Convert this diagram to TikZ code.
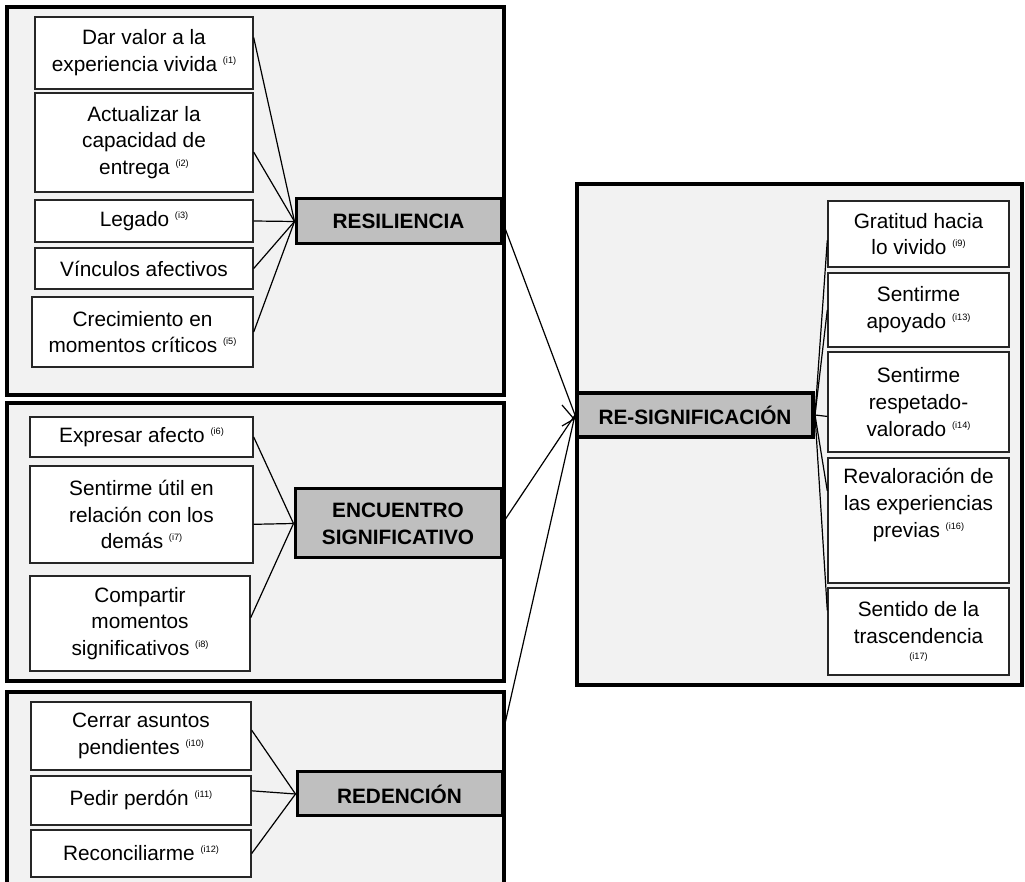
\documentclass[tikz,border=0pt]{standalone}
\usepackage{fontspec}
\setmainfont{Liberation Sans}
\usepackage{tikz}
\usetikzlibrary{arrows.meta}
\definecolor{framefill}{HTML}{F2F2F2}
\definecolor{headfill}{HTML}{BFBFBF}
\newcommand{\idx}[1]{~\raisebox{4pt}{\fontsize{4.6}{5}\selectfont(#1)}}

\begin{document}
\begin{tikzpicture}[x=0.5pt, y=-0.5pt,
    sz/.style 2 args={minimum width=#1*0.5pt, minimum height=#2*0.5pt},
    frame/.style={draw=black, fill=framefill, line width=2pt, inner sep=0pt},
    item/.style={draw=black!85, fill=white, line width=0.7pt, inner sep=0pt,
        align=center, font=\fontsize{10.4}{13.4}\selectfont},
    head/.style={draw=black, fill=headfill, line width=1.5pt, inner sep=0pt,
        align=center, font=\fontsize{10.4}{13.5}\selectfont\bfseries},
    link/.style={line width=0.6pt}]

\clip (0,0) rectangle (1025,882);
\fill[white] (0,0) rectangle (1025,882);

% Frames
\node[frame, sz={497}{388}] (grp1) at (255.5,201) {};
\node[frame, sz={497}{278}] (grp2) at (255.5,542) {};
\node[frame, sz={497}{208}] (grp3) at (255.5,796) {};
\node[frame, sz={445}{501}] (grp4) at (799.5,434.5) {};

% Resiliencia
\node[item, sz={218}{72}] (dar) at (144,53)    {Dar valor a la\\experiencia vivida\idx{i1}};
\node[item, sz={218}{99}] (act) at (144,142.5) {Actualizar la\\capacidad de\\entrega\idx{i2}};
\node[item, sz={218}{42}] (leg) at (144,221)   {Legado\idx{i3}};
\node[item, sz={218}{41}] (vin) at (144,268.5) {Vínculos afectivos};
\node[item, sz={221}{70}] (cre) at (142.5,332) {Crecimiento en\\momentos críticos\idx{i5}};
\node[head, sz={205}{45}] (res) at (398.5,221.5) {RESILIENCIA};

% Encuentro significativo
\node[item, sz={223}{40}] (exp) at (141.5,437)   {Expresar afecto\idx{i6}};
\node[item, sz={223}{97}] (uti) at (141.5,514.5) {Sentirme útil en\\relación con los\\demás\idx{i7}};
\node[item, sz={220}{95}] (com) at (140,623.5)   {Compartir\\momentos\\significativos\idx{i8}};
\node[head, sz={206}{69}] (enc) at (398,523.5)   {ENCUENTRO\\SIGNIFICATIVO};

% Redencion
\node[item, sz={220}{68}] (cer) at (141,736)   {Cerrar asuntos\\pendientes\idx{i10}};
\node[item, sz={220}{49}] (ped) at (141,800.5) {Pedir perdón\idx{i11}};
\node[item, sz={220}{47}] (rec) at (141,853.5) {Reconciliarme\idx{i12}};
\node[head, sz={205}{44}] (red) at (399.5,794) {REDENCIÓN};
\coordinate (redout) at (504,728);

% Re-significacion
\node[head, line width=2pt, sz={236}{44}] (resig) at (695,415) {RE-SIGNIFICACIÓN};
\node[item, sz={181}{66}]  (gra) at (918.5,234)   {Gratitud hacia\\lo vivido\idx{i9}};
\node[item, sz={181}{74}]  (apo) at (918.5,310)   {Sentirme\\apoyado\idx{i13}};
\node[item, sz={181}{100}] (rsp) at (918.5,402)   {Sentirme\\respetado-\\valorado\idx{i14}};
\node[item, sz={181}{125}] (rev) at (918.5,520.5) {Revaloración de\\las experiencias\\previas\idx{i16}\\[4pt]~};
\node[item, sz={181}{87}]  (sen) at (918.5,631.5) {Sentido de la\\trascendencia\\[-5pt]{\fontsize{4.6}{5}\selectfont(i17)}};

% Links
\foreach \n in {dar.8, act.-5, leg.east, vin.east, cre.east}{
    \draw[link] (\n) -- (res.west);
}
\foreach \n in {exp.east, uti.-5, com.3}{
    \draw[link] (\n) -- (enc.west);
}
\foreach \n in {cer.3, ped.5, rec.east}{
    \draw[link] (\n) -- (red.west);
}
\foreach \n in {gra.184, apo.west, rsp.189, rev.162, sen.167}{
    \draw[link] (resig.east) -- (\n);
}
\draw[link] (res.east) -- (resig.west);
\draw[link] (enc.east) -- (resig.west);
\draw[link] (redout) -- (resig.west);
\draw[link] ([shift={(-13,-10)}]resig.west) -- ([shift={(-1,4)}]resig.west)
    -- ([shift={(-13,11)}]resig.west);

\end{tikzpicture}
\end{document}
